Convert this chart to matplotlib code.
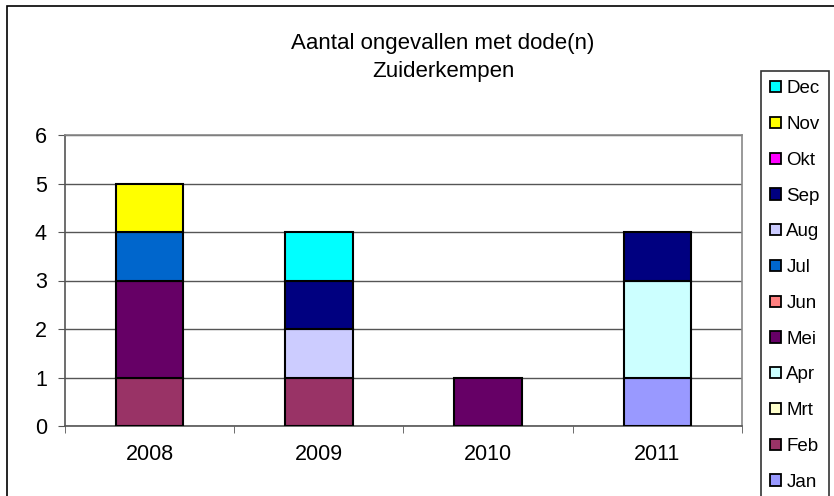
import numpy as np
import matplotlib
matplotlib.use('Agg')
import matplotlib.pyplot as plt
from matplotlib.patches import Patch, Rectangle

plt.rcParams['font.family'] = ['Liberation Sans', 'DejaVu Sans']

W, H = 834, 496
DPI = 100

years = ['2008', '2009', '2010', '2011']
months = ['Jan', 'Feb', 'Mrt', 'Apr', 'Mei', 'Jun', 'Jul', 'Aug', 'Sep', 'Okt', 'Nov', 'Dec']

# counts per month, one value per year
jan = [0, 0, 0, 1]
feb = [1, 1, 0, 0]
mrt = [0, 0, 0, 0]
apr = [0, 0, 0, 2]
mei = [2, 0, 1, 0]
jun = [0, 0, 0, 0]
jul = [1, 0, 0, 0]
aug = [0, 1, 0, 0]
sep = [0, 1, 0, 1]
okt = [0, 0, 0, 0]
nov = [1, 0, 0, 0]
dec = [0, 1, 0, 0]
series = [jan, feb, mrt, apr, mei, jun, jul, aug, sep, okt, nov, dec]

colors = ['#9999FF', '#993366', '#FFFFCC', '#CCFFFF', '#660066', '#FF8080',
          '#0066CC', '#CCCCFF', '#000080', '#FF00FF', '#FFFF00', '#00FFFF']

fig = plt.figure(figsize=(W / DPI, H / DPI), dpi=DPI)

# outer chart border (cut off at right and bottom)
fig.patches.append(Rectangle((7 / W, -0.1), 1.2, 1.1 - 6 / H, transform=fig.transFigure,
                             fill=False, edgecolor='black', lw=1.2))

ax = fig.add_axes([65 / W, (H - 426) / H, (742 - 65) / W, (426 - 135) / H])

x = np.arange(len(years))
bottom = np.zeros(len(years))
for vals, c in zip(series, colors):
    v = np.array(vals, dtype=float)
    mask = v > 0
    ax.bar(x[mask], v[mask], width=0.4, bottom=bottom[mask], color=c,
           edgecolor='black', linewidth=1.5, zorder=3)
    bottom += v

ax.set_xlim(-0.5, 3.5)
ax.set_ylim(0, 6)
ax.set_yticks(range(7))
ax.yaxis.grid(True, color='#555555', linewidth=1, zorder=0)
ax.set_xticks(x)
ax.set_xticklabels(years)
ax.set_xticks(np.arange(-0.5, 4, 1), minor=True)
ax.tick_params(axis='x', which='major', length=0, pad=13, labelsize=15.5)
ax.tick_params(axis='x', which='minor', length=5, direction='out', color='#555555')
ax.tick_params(axis='y', length=5, direction='out', pad=8, labelsize=15.5, color='#555555')

for s in ['top', 'right']:
    ax.spines[s].set_color('#888888')
for s in ['left', 'bottom']:
    ax.spines[s].set_color('#555555')
for s in ax.spines.values():
    s.set_linewidth(1.2)

fig.text(443 / W, 1 - 44 / H, 'Aantal ongevallen met dode(n)', ha='center', va='center', fontsize=16)
fig.text(443 / W, 1 - 72 / H, 'Zuiderkempen', ha='center', va='center', fontsize=16)

handles = [Patch(facecolor=c, edgecolor='black', linewidth=1.3) for c in colors][::-1]
leg = fig.legend(handles, months[::-1], loc='upper left', bbox_to_anchor=(761 / W, 1 - 71 / H),
                 fontsize=13.5, frameon=True, fancybox=False, edgecolor='black',
                 handlelength=0.55, handleheight=0.55, handletextpad=0.3,
                 labelspacing=1.0, borderaxespad=0, borderpad=0.5)
leg.get_frame().set_linewidth(1.2)

fig.savefig('out.png', dpi=DPI)
